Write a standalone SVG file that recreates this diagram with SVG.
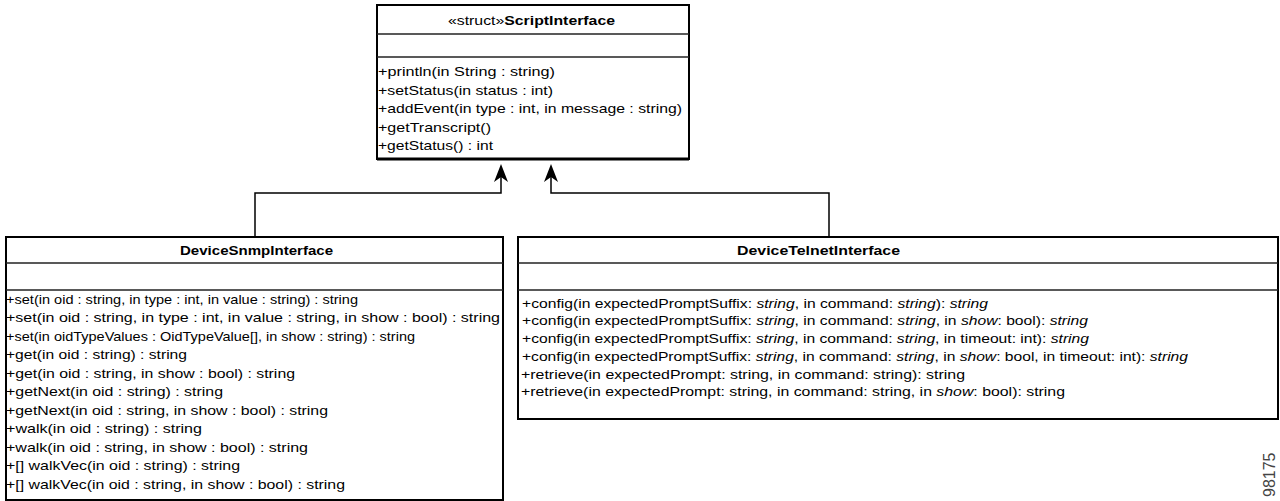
<svg xmlns="http://www.w3.org/2000/svg" width="1280" height="501" viewBox="0 0 1280 501">
<style>
.box{fill:#fff;stroke:#000;stroke-width:2}
.div{stroke:#222;stroke-width:1.5}
.t{font-family:"Liberation Sans",Arial,sans-serif;font-size:13.5px;fill:#000}
.h{font-family:"Liberation Sans",Arial,sans-serif;font-size:13.5px;font-weight:bold;fill:#000}
.i{font-style:italic}
.b{font-weight:bold}
.con{fill:none;stroke:#000;stroke-width:1.5}
.ah{fill:#000}
</style>
<rect width="1280" height="501" fill="#fff"/>
<g id="connectors">
<path class="con" d="M255,237 V193 H501 V176"/>
<path class="con" d="M829,237 V193 H551 V176"/>
<polygon class="ah" points="501,164 508,182 501,177 494,182"/>
<polygon class="ah" points="551,164 558,182 551,177 544,182"/>
</g>
<g id="ScriptInterface">
<rect class="box" x="377" y="5" width="312" height="154"/>
<line x1="377" y1="159" x2="689" y2="159" stroke="#000" stroke-width="3"/>
<line class="div" x1="377" y1="34" x2="689" y2="34"/>
<line class="div" x1="377" y1="57" x2="689" y2="57"/>
<text class="t" x="448" y="25" textLength="167" lengthAdjust="spacingAndGlyphs">«struct»<tspan class="b">ScriptInterface</tspan></text>
<text class="t" x="378" y="76" textLength="177" lengthAdjust="spacingAndGlyphs">+println(in String  : string)</text>
<text class="t" x="378" y="94.5" textLength="175" lengthAdjust="spacingAndGlyphs">+setStatus(in status : int)</text>
<text class="t" x="378" y="113" textLength="304" lengthAdjust="spacingAndGlyphs">+addEvent(in type : int, in message : string)</text>
<text class="t" x="378" y="131.5" textLength="113" lengthAdjust="spacingAndGlyphs">+getTranscript()</text>
<text class="t" x="378" y="150" textLength="115" lengthAdjust="spacingAndGlyphs">+getStatus() : int</text>
</g>
<g id="DeviceSnmpInterface">
<rect class="box" x="6" y="237" width="497" height="263"/>
<line class="div" x1="6" y1="263" x2="503" y2="263"/>
<line class="div" x1="6" y1="290" x2="503" y2="290"/>
<text class="h" x="180" y="255" textLength="153" lengthAdjust="spacingAndGlyphs">DeviceSnmpInterface</text>
<text class="t" x="6" y="303.5" textLength="352" lengthAdjust="spacingAndGlyphs">+set(in oid : string, in type : int, in value : string) : string</text>
<text class="t" x="6" y="322" textLength="494" lengthAdjust="spacingAndGlyphs">+set(in oid : string, in type : int, in value : string, in show : bool) : string</text>
<text class="t" x="6" y="340.5" textLength="409" lengthAdjust="spacingAndGlyphs">+set(in oidTypeValues : OidTypeValue[], in show : string) : string</text>
<text class="t" x="6" y="359" textLength="181" lengthAdjust="spacingAndGlyphs">+get(in oid : string) : string</text>
<text class="t" x="6" y="377.5" textLength="289" lengthAdjust="spacingAndGlyphs">+get(in oid : string, in show : bool) : string</text>
<text class="t" x="6" y="396" textLength="217" lengthAdjust="spacingAndGlyphs">+getNext(in oid : string) : string</text>
<text class="t" x="6" y="414.5" textLength="322" lengthAdjust="spacingAndGlyphs">+getNext(in oid : string, in show : bool) : string</text>
<text class="t" x="6" y="433" textLength="196" lengthAdjust="spacingAndGlyphs">+walk(in oid : string) : string</text>
<text class="t" x="6" y="451.5" textLength="302" lengthAdjust="spacingAndGlyphs">+walk(in oid : string, in show : bool) : string</text>
<text class="t" x="6" y="470" textLength="234" lengthAdjust="spacingAndGlyphs">+[] walkVec(in oid : string) : string</text>
<text class="t" x="6" y="488.5" textLength="339" lengthAdjust="spacingAndGlyphs">+[] walkVec(in oid : string, in show : bool) : string</text>
</g>
<g id="DeviceTelnetInterface">
<rect class="box" x="518" y="237" width="760" height="182"/>
<line class="div" x1="518" y1="263" x2="1278" y2="263"/>
<line class="div" x1="518" y1="290" x2="1278" y2="290"/>
<text class="h" x="737" y="255" textLength="163" lengthAdjust="spacingAndGlyphs">DeviceTelnetInterface</text>
<text class="t" x="522" y="307.5" textLength="466" lengthAdjust="spacingAndGlyphs">+config(in expectedPromptSuffix: <tspan class="i">string</tspan>, in command: <tspan class="i">string</tspan>): <tspan class="i">string</tspan></text>
<text class="t" x="522" y="325" textLength="566" lengthAdjust="spacingAndGlyphs">+config(in expectedPromptSuffix: <tspan class="i">string</tspan>, in command: <tspan class="i">string</tspan>, in <tspan class="i">show</tspan>: bool): <tspan class="i">string</tspan></text>
<text class="t" x="522" y="343" textLength="567" lengthAdjust="spacingAndGlyphs">+config(in expectedPromptSuffix: <tspan class="i">string</tspan>, in command: <tspan class="i">string</tspan>, in timeout: int): <tspan class="i">string</tspan></text>
<text class="t" x="522" y="360.5" textLength="666" lengthAdjust="spacingAndGlyphs">+config(in expectedPromptSuffix: <tspan class="i">string</tspan>, in command: <tspan class="i">string</tspan>, in <tspan class="i">show</tspan>: bool, in timeout: int): <tspan class="i">string</tspan></text>
<text class="t" x="521" y="378.5" textLength="444" lengthAdjust="spacingAndGlyphs">+retrieve(in expectedPrompt: string, in command: string): string</text>
<text class="t" x="521" y="396" textLength="544" lengthAdjust="spacingAndGlyphs">+retrieve(in expectedPrompt: string, in command: string, in <tspan class="i">show</tspan>: bool): string</text>
</g>
<text x="1275" y="497" transform="rotate(-90 1275 497)" font-family="Liberation Sans, Arial, sans-serif" font-size="16" fill="#444">98175</text>
</svg>
